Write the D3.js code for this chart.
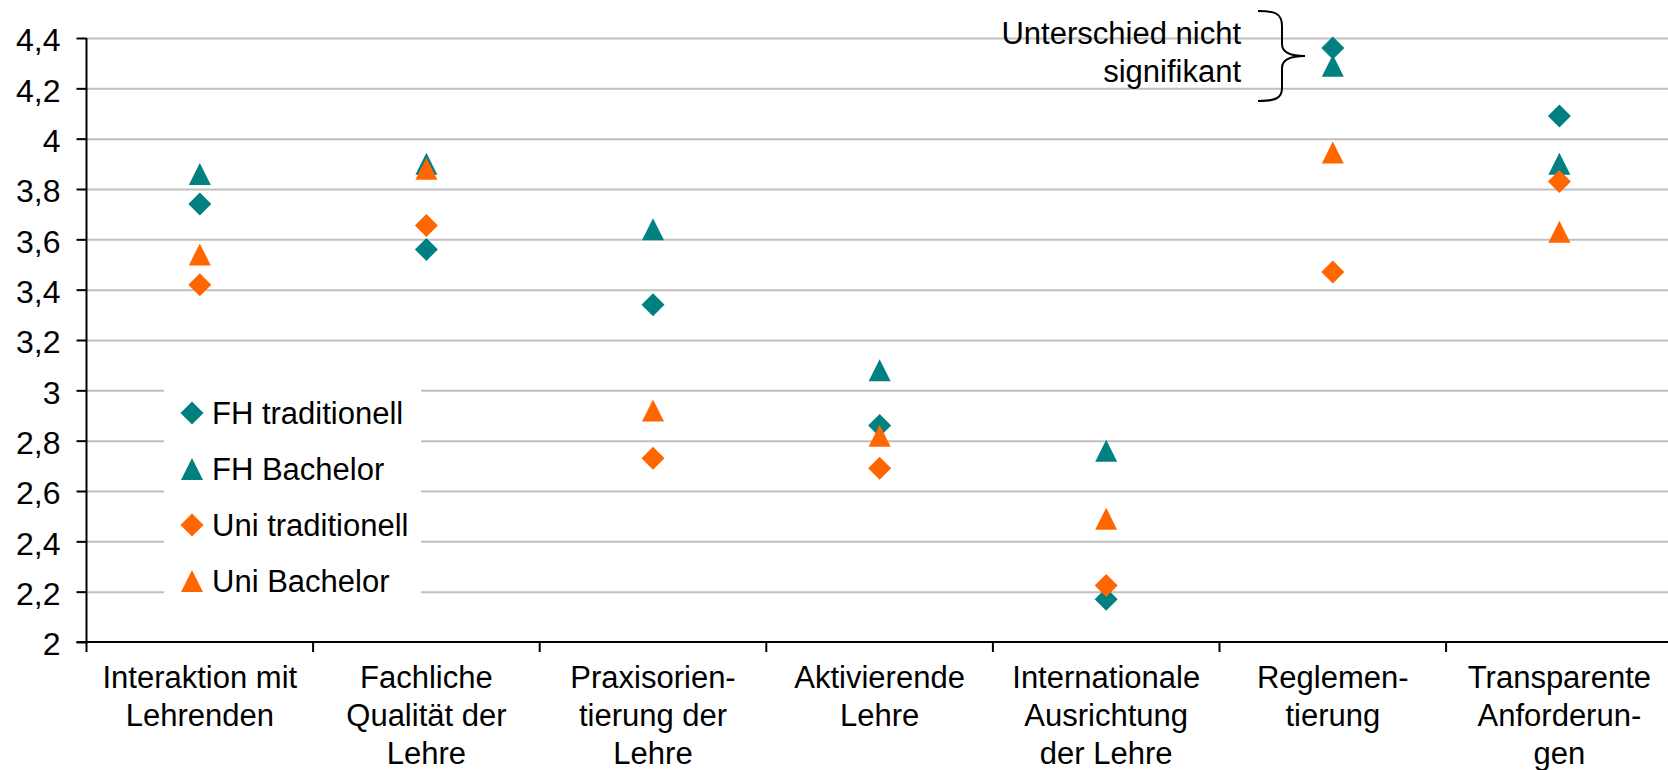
<!DOCTYPE html>
<html>
<head>
<meta charset="utf-8">
<script src="https://cdn.jsdelivr.net/npm/d3@7"></script>
<style>
  body { margin: 0; background: #fff; }
  svg { display: block; font-family: "Liberation Sans", Arial, sans-serif; }
</style>
</head>
<body>
<div id="chart"></div>
<script>
/* Dot chart: FH vs Uni, traditionell vs Bachelor */

// categories, each with its label lines
const categories = ["Interaktion", "Fachlich", "Praxis", "Aktiv", "International", "Reglement", "Transparent"];
const categoryLines = [
    ["Interaktion mit", "Lehrenden"],
    ["Fachliche", "Qualität der", "Lehre"],
    ["Praxisorien-", "tierung der", "Lehre"],
    ["Aktivierende", "Lehre"],
    ["Internationale", "Ausrichtung", "der Lehre"],
    ["Reglemen-", "tierung"],
    ["Transparente", "Anforderun-", "gen"]
];

// series values
const fhTraditionell  = [3.74, 3.56, 3.34, 2.86, 2.17, 4.36, 4.09];
const fhBachelor      = [3.86, 3.90, 3.64, 3.08, 2.76, 4.29, 3.90];
const uniTraditionell = [3.42, 3.655, 2.73, 2.69, 2.225, 3.47, 3.83];
const uniBachelor     = [3.54, 3.88, 2.92, 2.82, 2.49, 3.945, 3.63];

const seriesNames = ["FH traditionell", "FH Bachelor", "Uni traditionell", "Uni Bachelor"];

const yTicks = [2, 2.2, 2.4, 2.6, 2.8, 3, 3.2, 3.4, 3.6, 3.8, 4, 4.2, 4.4];
const yTickLabels = ["2", "2,2", "2,4", "2,6", "2,8", "3", "3,2", "3,4", "3,6", "3,8", "4", "4,2", "4,4"];

const note = ["Unterschied nicht", "signifikant"];

const teal = "#008080", orange = "#ff6600";

const series = [
    { name: seriesNames[0], values: fhTraditionell,  color: teal,   shape: "diamond" },
    { name: seriesNames[1], values: fhBachelor,      color: teal,   shape: "triangle" },
    { name: seriesNames[2], values: uniTraditionell, color: orange, shape: "diamond" },
    { name: seriesNames[3], values: uniBachelor,     color: orange, shape: "triangle" }
];

const width = 1668, height = 770,
      margin = ({ top: 38, right: 0, bottom: 128, left: 86.5 });
const fontSize = 31;

const svg = d3.select("#chart")
    .append("svg")
    .attr("width", width)
    .attr("height", height);

const x = d3.scaleBand()
    .domain(categories)
    .range([margin.left, margin.left + 7 * 226.6])
    .padding(0);

const y = d3.scaleLinear()
    .domain([2, 4.4])
    .range([height - margin.bottom, margin.top]);

// marker paths, ~22px across
const diamond = "M0,-11.5L11.5,0L0,11.5L-11.5,0Z";
const triangle = "M0,-11L11,11L-11,11Z";
const shapePath = s => s === "diamond" ? diamond : triangle;

// gridlines
svg.append("g")
    .attr("transform", `translate(${margin.left},0)`)
    .call(d3.axisLeft(y).tickValues(yTicks.slice(1)).tickSize(-(width - margin.left)).tickFormat(""))
    .call(g => g.select(".domain").remove())
    .call(g => g.selectAll(".tick line").attr("stroke", "#c0c0c0").attr("stroke-width", 2));

// y axis
svg.append("g")
    .attr("transform", `translate(${margin.left},0)`)
    .call(d3.axisLeft(y).tickValues(yTicks).tickSize(10).tickPadding(16)
        .tickFormat((d, i) => yTickLabels[i]).tickSizeOuter(0))
    .call(g => g.select(".domain").attr("stroke", "#000").attr("stroke-width", 2)
        .attr("d", `M0,${y(4.4)}V${y(2) + 10}`))
    .call(g => g.selectAll(".tick line").attr("stroke", "#000").attr("stroke-width", 2))
    .call(g => g.selectAll(".tick text").attr("fill", "#000").attr("dy", "0.4em")
        .style("font-size", "32px").style("font-family", "'Liberation Sans', Arial, sans-serif"));

// x axis: line, boundary ticks and labels
const xAxis = svg.append("g")
    .attr("transform", `translate(0,${y(2)})`)
    .call(d3.axisBottom(x).tickSize(0).tickPadding(0).tickSizeOuter(0).tickFormat(""))
    .call(g => g.select(".domain").attr("stroke", "#000").attr("stroke-width", 2)
        .attr("d", `M${margin.left - 10},0H${width}`));

xAxis.selectAll(".boundary")
    .data(categories.slice(1))
    .join("line")
    .attr("x1", d => x(d)).attr("x2", d => x(d))
    .attr("y1", 0).attr("y2", 10)
    .attr("stroke", "#000").attr("stroke-width", 2);

xAxis.selectAll(".tick text").remove();
xAxis.selectAll(".tick")
    .append("text")
    .attr("fill", "#000")
    .attr("text-anchor", "middle")
    .style("font-size", fontSize + "px")
    .selectAll("tspan")
    .data((d, i) => categoryLines[i])
    .join("tspan")
    .attr("x", 0)
    .attr("y", (d, i) => 46 + i * 38)
    .text(d => d);

// markers
const g = svg.append("g");
series.forEach(s => {
    g.selectAll(null)
        .data(s.values)
        .join("path")
        .attr("d", shapePath(s.shape))
        .attr("transform", (d, i) => `translate(${x(categories[i]) + x.bandwidth() / 2},${y(d)})`)
        .attr("fill", s.color);
});

// legend
const legend = svg.append("g");
legend.append("rect")
    .attr("x", 164).attr("y", 352)
    .attr("width", 257).attr("height", 280)
    .attr("fill", "#fff");

const item = legend.selectAll(".item")
    .data(series)
    .join("g")
    .attr("class", "item")
    .attr("transform", (d, i) => `translate(192,${413 + i * 56})`);

item.append("path")
    .attr("d", d => shapePath(d.shape))
    .attr("fill", d => d.color);

item.append("text")
    .attr("x", 20)
    .attr("dy", "0.36em")
    .style("font-size", fontSize + "px")
    .attr("fill", "#000")
    .text(d => d.name);

// annotation with brace
svg.append("text")
    .attr("text-anchor", "end")
    .style("font-size", fontSize + "px")
    .attr("fill", "#000")
    .selectAll("tspan")
    .data(note)
    .join("tspan")
    .attr("x", 1241)
    .attr("y", (d, i) => 44 + i * 38)
    .text(d => d);

svg.append("path")
    .attr("d", "M1258,11 C1276,11 1282,14 1282,26 L1282,44 C1282,52 1290,56 1305,56 C1290,56 1282,60 1282,68 L1282,88 C1282,98 1276,101 1258,101")
    .attr("fill", "none")
    .attr("stroke", "#000")
    .attr("stroke-width", 2);
</script>
</body>
</html>
